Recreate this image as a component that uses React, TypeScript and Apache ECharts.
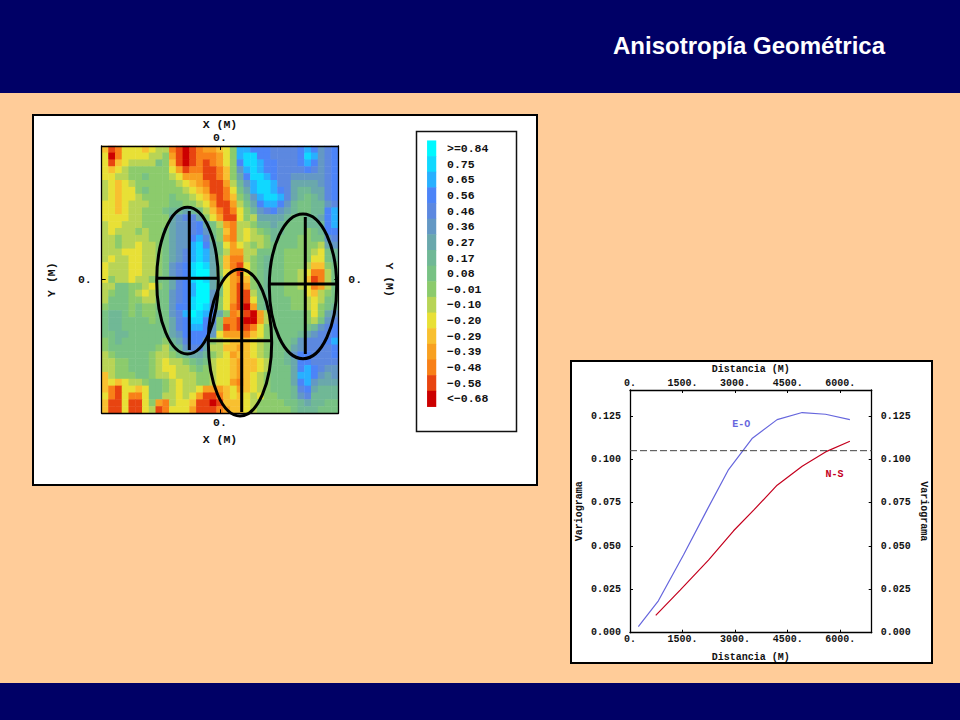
import React, { useEffect, useRef } from "react";
import * as echarts from "echarts";

// ---- Variogram data (distance in M, variogram value) ----
const eoDistance = [238, 810, 1526, 2196, 2814, 3484, 4200, 4915, 5582, 6277];
const eoValues = [0.0035, 0.0184, 0.0448, 0.0707, 0.0941, 0.112, 0.1229, 0.127, 0.126, 0.1229];
const nsDistance = [735, 1431, 2240, 2957, 3530, 4200, 4915, 5582, 6277];
const nsValues = [0.01, 0.0246, 0.0419, 0.0588, 0.0707, 0.0851, 0.096, 0.1043, 0.1104];
const sillValue = 0.105;
const sillRange = [0, 6900];

// ---- Colour scale ----
const legendLabels = [">=0.84", "0.75", "0.65", "0.56", "0.46", "0.36", "0.27", "0.17", "0.08", "−0.01", "−0.10", "−0.20", "−0.29", "−0.39", "−0.48", "−0.58", "<−0.68"];
const legendValues = [0.84, 0.75, 0.65, 0.56, 0.46, 0.36, 0.27, 0.17, 0.08, -0.01, -0.1, -0.2, -0.29, -0.39, -0.48, -0.58, -0.68];
const legendColors = ["#00f8ff", "#10d8ff", "#28b0ff", "#4c84f8", "#5c88e0", "#6498c4", "#6aa8ac", "#70b896", "#78c284", "#8ccb6c", "#b8d456", "#e8e036", "#f8c030", "#f8a020", "#f88018", "#e84410", "#cc0000"];

// Map cells: each letter is a class of the colour scale, a = lowest (<-0.68) ... q = highest (>=0.84)
const mapRows = [
  "ebcff fefgg cbabc ddefh oonnn mmmmn onlmn",
  "facff ffggh dbabc ccdfh oppnn mmmmn polmn",
  "fbefg gggih ebabc bcdfh nppon nmmmn onlmn",
  "fefgh hhhhh fdbcc bbceh lopon nmmmm nmlmn",
  "ffggh hihhh gfddd bbceh knppo nmmll lllmn",
  "gfefg hhhhh hgfed cbbdg jlopp ommkk kklmn",
  "gfeff hihhh hhgfe dbbcf ikopp onmkj jkkmn",
  "gfeff ghhhh ihhgf ecbce hjlop pomkj ijkmn",
  "ffefg gghhh iihhg fdbbd gikno onlji ijjlm",
  "ffefg ghhhi jjkji gecbc fhjlm nlkji ijjno",
  "ffffg ghhhh klmmk hfdbb fhgkk kkjii jjkno",
  "gffgg ghhhh kllmn kigdc gghjj kjiii jjjno",
  "gfggg hghhi kllmn lihec gfghi jjiii hijnn",
  "gghgg gghhi kllno mjhdc gfggh jiiih hiilm",
  "gghgg fgghi kllop nkifd fghgh iiiih hhgkl",
  "gggff fgghi klmop okigd dggii iihhh hgfij",
  "gfggf fgghi klmop okhec cghij iihhh hffij",
  "fgggf fgghi lmnpq pkhec bfhij iihhh geehi",
  "fgggf fgghi lmnpq qkhfd bfhij iihhg fccgi",
  "fhggf gghii kmnpq pkifd cehij iihhg ebcgi",
  "ggiih hgfhi kmnoq qkifd bdhij iihhg fcdgi",
  "ghiih gfgii lmnoq qlifd bbgij iihhh feghi",
  "giiih hggii lmnpq qlhfd bbfij iiihh gfgii",
  "hiiih ihhii lnnpq pmhfc badij iiihh gfhij",
  "ijjih ihhii lmoqp onkhc dbadg iiiii hfhkl",
  "ijjii iihii kmnpp nmhcc baadg iiiii hgilm",
  "ijjii iiiii kmnoo nlhbc bbcfh iiiii ijlmn",
  "iijji iiiii klnnn nlfdd dcefh iiiij klmmn",
  "hijii iiiih jkmnn lhgfe eefgh iiijl mmmno",
  "hiiii iiihg ijlmm kggee defgh iiikl mmmmn",
  "ghiii iihgg hijkk jhgfd eefgh iijln nmmmn",
  "gghhi iihgf gghij igffe deefg iijkn nmmmm",
  "gghhi iihgf fgghi hgffe deefg iiikn onmll",
  "eghhh iihgg fgggh hgffe defgh iiiko onlkl",
  "efefg ghiih gfggh hgffd cefgh iiikn olkkk",
  "ecbff efiih gfggf dddef defgh iiijm nkjjj",
  "fcbfc cfiig gfgfd bbcef efgfh hiijl mjjjj",
  "ebbfb bfhdc gffeb babee efghh hhiij kjjii",
  "ebbfb bfgbc fffdb bbcde efghh hhhij jjiii",
];

// Ellipses: centre, radii, and the cross inside them (same units as the map axes)
const ellipseCx = [-32.5, 20, 83];
const ellipseCy = [-1.1, -63.1, -6.8];
const ellipseRx = [30.8, 31.7, 33.7];
const ellipseRy = [73.4, 73.4, 72.4];
const crossX = [-30.7, 21.7, 85.3];
const crossTop = [68.5, 7.5, 62.5];
const crossBottom = [-70.5, -132.5, -74.5];
const crossY = [1.2, -61.2, -4.5];
const crossLeft = [-63, -12, 50];
const crossRight = [-2, 51.7, 116];

const mono = '"Liberation Mono", monospace';
const tickText = { fontFamily: mono, fontWeight: "bold" as const, fontSize: 10, color: "#111" };
const mapText = { fontFamily: mono, fontWeight: "bold" as const, fontSize: 11.5, color: "#111" };
const blackLine = { lineStyle: { color: "#000", width: 1.3 } };

function buildOption() {
  const rows = mapRows.map((r) => r.replace(/ /g, ""));
  const colCats = rows[0].split("").map((_, i) => String(i));
  const rowCats = rows.map((_, i) => String(i));
  const cells: number[][] = [];
  rows.forEach((row, r) =>
    row.split("").forEach((ch, c) => {
      const level = ch.charCodeAt(0) - 97;
      cells.push([c, r, legendValues[16 - level]]);
    })
  );
  const midCol = (i: number) => i === 17;
  const midRow = (i: number) => i === 19;
  const ellipses = ellipseCx.map((cx, i) => [cx, ellipseCy[i], ellipseRx[i], ellipseRy[i], crossX[i], crossTop[i], crossBottom[i], crossY[i], crossLeft[i], crossRight[i]]);

  const mapX = (position: string, gap: number) => ({
    type: "category",
    gridIndex: 0,
    position,
    data: colCats,
    z: 4,
    name: "X (M)",
    nameLocation: "middle",
    nameGap: gap,
    nameTextStyle: mapText,
    axisLine: { show: true, onZero: false, ...blackLine },
    axisTick: { show: true, inside: true, length: 4, alignWithLabel: true, interval: midCol, lineStyle: { color: "#000" } },
    axisLabel: { ...mapText, margin: 3, interval: midCol, formatter: () => "0." },
    splitLine: { show: false },
  });
  const mapY = (position: string, rotate: number, gap: number) => ({
    type: "category",
    gridIndex: 0,
    position,
    inverse: true,
    data: rowCats,
    z: 4,
    name: "Y (M)",
    nameLocation: "middle",
    nameGap: gap,
    nameRotate: rotate,
    nameTextStyle: mapText,
    axisLine: { show: true, onZero: false, ...blackLine },
    axisTick: { show: true, inside: true, length: 4, alignWithLabel: true, interval: midRow, lineStyle: { color: "#000" } },
    axisLabel: { ...mapText, margin: 10, interval: midRow, formatter: () => "0." },
    splitLine: { show: false },
  });
  const varX = (position: string, gap: number) => ({
    type: "value",
    gridIndex: 3,
    position,
    min: 0,
    max: 6900,
    interval: 1500,
    name: "Distancia (M)",
    nameLocation: "middle",
    nameGap: gap,
    nameTextStyle: tickText,
    axisLine: { show: true, onZero: false, ...blackLine },
    axisTick: { show: true, inside: true, length: 3, lineStyle: { color: "#000" } },
    axisLabel: { ...tickText, margin: 2, showMaxLabel: false, formatter: (v: number) => `${v}.` },
    splitLine: { show: false },
  });
  const varY = (position: string, rotate: number, gap: number) => ({
    type: "value",
    gridIndex: 3,
    position,
    min: 0,
    max: 0.14,
    interval: 0.025,
    name: "Variograma",
    nameLocation: "middle",
    nameGap: gap,
    nameRotate: rotate,
    nameTextStyle: tickText,
    axisLine: { show: true, onZero: false, ...blackLine },
    axisTick: { show: true, inside: true, length: 3, lineStyle: { color: "#000" } },
    axisLabel: { ...tickText, margin: 9, showMaxLabel: false, formatter: (v: number) => v.toFixed(3) },
    splitLine: { show: false },
  });

  return {
    animation: false,
    backgroundColor: "#ffcc99",
    graphic: [
      { type: "rect", z: -10, shape: { x: 0, y: 0, width: 960, height: 93 }, style: { fill: "#000066" } },
      { type: "rect", z: -10, shape: { x: 0, y: 683, width: 960, height: 37 }, style: { fill: "#000066" } },
      { type: "rect", z: -10, shape: { x: 33, y: 115, width: 504, height: 370 }, style: { fill: "#fff", stroke: "#000", lineWidth: 2 } },
      { type: "rect", z: -10, shape: { x: 571, y: 361, width: 361, height: 302 }, style: { fill: "#fff", stroke: "#000", lineWidth: 2 } },
      { type: "rect", z: -9, shape: { x: 416.5, y: 131.5, width: 100, height: 300 }, style: { fill: "#fff", stroke: "#111", lineWidth: 1.5 } },
      { type: "text", z: 10, style: { text: "Anisotropía Geométrica", x: 613, y: 45, verticalAlign: "middle", font: 'bold 24px "Liberation Sans", Arial, sans-serif', fill: "#fff" } },
    ],
    visualMap: {
      type: "piecewise",
      show: false,
      seriesIndex: [0, 1],
      dimension: 2,
      pieces: legendValues.map((value, i) => ({ value, color: legendColors[i] })),
    },
    grid: [
      { left: 101.7, top: 146, width: 236.6, height: 267.3, containLabel: false },
      { left: 101.7, top: 146, width: 236.6, height: 267.3, containLabel: false },
      { left: 427.3, top: 140.7, width: 8.7, height: 266, containLabel: false },
      { left: 630, top: 390, width: 241.7, height: 242.7, containLabel: false },
    ],
    xAxis: [
      mapX("bottom", 20),
      mapX("top", 16),
      { type: "value", gridIndex: 1, min: -118.3, max: 118.3, show: false },
      { type: "category", gridIndex: 2, data: ["c"], show: false },
      varX("bottom", 20),
      varX("top", 16),
    ],
    yAxis: [
      mapY("left", 90, 44),
      mapY("right", -90, 45),
      { type: "value", gridIndex: 1, min: -133.8, max: 133.5, show: false },
      {
        type: "category",
        gridIndex: 2,
        position: "right",
        inverse: true,
        data: legendLabels,
        axisLine: { show: false },
        axisTick: { show: false },
        axisLabel: { ...mapText, margin: 11, interval: 0 },
      },
      varY("left", 90, 46),
      varY("right", -90, 47),
    ],
    series: [
      { type: "heatmap", xAxisIndex: 0, yAxisIndex: 0, data: cells, z: 2 },
      { type: "heatmap", xAxisIndex: 3, yAxisIndex: 3, data: legendValues.map((v, i) => [0, i, v]), z: 2 },
      {
        type: "custom",
        xAxisIndex: 2,
        yAxisIndex: 2,
        z: 6,
        clip: false,
        silent: true,
        data: ellipses,
        encode: { x: 0, y: 1 },
        renderItem: (_p: any, api: any) => {
          const v = (i: number) => api.value(i) as number;
          const c = api.coord([v(0), v(1)]);
          const edge = api.coord([v(0) + v(2), v(1) + v(3)]);
          const stroke = { stroke: "#000", lineWidth: 3, fill: "none" };
          const top = api.coord([v(4), v(5)]);
          const bottom = api.coord([v(4), v(6)]);
          const left = api.coord([v(8), v(7)]);
          const right = api.coord([v(9), v(7)]);
          return {
            type: "group",
            children: [
              { type: "ellipse", shape: { cx: c[0], cy: c[1], rx: Math.abs(edge[0] - c[0]), ry: Math.abs(edge[1] - c[1]) }, style: stroke },
              { type: "line", shape: { x1: top[0], y1: top[1], x2: bottom[0], y2: bottom[1] }, style: stroke },
              { type: "line", shape: { x1: left[0], y1: left[1], x2: right[0], y2: right[1] }, style: stroke },
            ],
          };
        },
      },
      {
        type: "line",
        xAxisIndex: 4,
        yAxisIndex: 4,
        data: eoDistance.map((d, i) => [d, eoValues[i]]),
        showSymbol: false,
        symbol: "none",
        lineStyle: { color: "#6666dd", width: 1.2 },
        markPoint: {
          symbol: "circle",
          symbolSize: 0,
          label: { show: true, position: "inside", formatter: "E-O", fontFamily: mono, fontWeight: "bold", fontSize: 10, color: "#6666dd" },
          data: [{ coord: [3177, 0.1202] }],
        },
      },
      {
        type: "line",
        xAxisIndex: 4,
        yAxisIndex: 4,
        data: nsDistance.map((d, i) => [d, nsValues[i]]),
        showSymbol: false,
        symbol: "none",
        lineStyle: { color: "#c4001e", width: 1.2 },
        markPoint: {
          symbol: "circle",
          symbolSize: 0,
          label: { show: true, position: "inside", formatter: "N-S", fontFamily: mono, fontWeight: "bold", fontSize: 10, color: "#c4001e" },
          data: [{ coord: [5840, 0.0914] }],
        },
      },
      {
        type: "line",
        xAxisIndex: 4,
        yAxisIndex: 4,
        data: sillRange.map((d) => [d, sillValue]),
        showSymbol: false,
        symbol: "none",
        lineStyle: { color: "#444", width: 1, type: [7, 3] },
      },
    ],
  };
}

export default function App() {
  const ref = useRef<HTMLDivElement>(null);
  useEffect(() => {
    document.body.style.margin = "0";
    const chart = echarts.init(ref.current!, null, { renderer: "svg", width: 960, height: 720 });
    chart.setOption(buildOption() as any);
    return () => chart.dispose();
  }, []);
  return <div ref={ref} style={{ position: "fixed", left: 0, top: 0, width: 960, height: 720 }} />;
}
